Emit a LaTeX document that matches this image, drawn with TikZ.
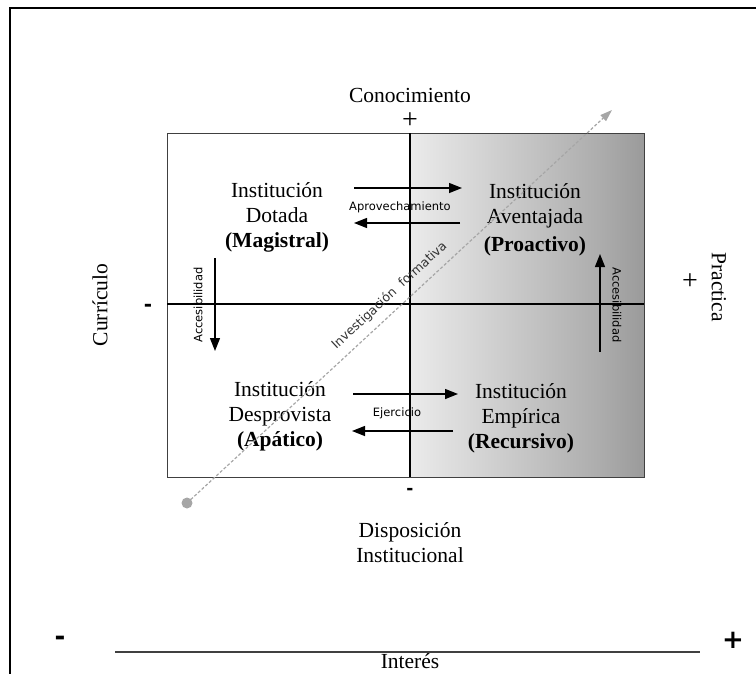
\documentclass[tikz,border=0pt]{standalone}
\usepackage{fontspec}
\setmainfont{Liberation Serif}
\setsansfont{DejaVu Sans}
\usetikzlibrary{arrows.meta}

\pgfdeclarehorizontalshading{gainshade}{100bp}{color(0bp)=(white); color(12bp)=(white); color(65bp)=(black!32); color(100bp)=(black!58)}

\tikzset{
  quadlbl/.style={align=center, font=\fontsize{21.5}{25}\selectfont},
  axislbl/.style={font=\fontsize{21.5}{24}\selectfont},
  smalllbl/.style={font=\sffamily\fontsize{11.5}{13}\selectfont, inner sep=1pt},
  flowarrow/.style={line width=1.4pt, -{Triangle[length=13pt,width=10pt]}},
  signmark/.style={font=\sffamily\bfseries\fontsize{26}{26}\selectfont},
  plusmark/.style={font=\fontsize{28}{28}\selectfont},
}

\begin{document}
\begin{tikzpicture}[x=1pt,y=-1pt]
	\useasboundingbox (0,0) rectangle (756,673);
	% outer frame
	\draw[line width=2pt] (10,690) -- (10,8) -- (770,8);
	% quadrant box
	\shade[shading=gainshade] (410,133) rectangle (644,477);
	\draw[line width=0.9pt, black!75] (167,133) rectangle (644,477);
	\draw[line width=1.1pt] (410,133) -- (410,477);
	\draw[line width=1.1pt] (167,304) -- (644,304);

	% axis labels
	\node[axislbl] (conoc) at (410,95) {Conocimiento};
	\node[plusmark] (conocplus) at (410,121) {+};
	\node[axislbl, rotate=90] (curric) at (100,305) {Currículo};
	\node[signmark, font=\sffamily\bfseries\fontsize{20}{20}\selectfont] (curricminus) at (148,308) {-};
	\node[axislbl, rotate=-90] (pract) at (719,287) {Practica};
	\node[plusmark] (practplus) at (690,282) {+};
	\node[signmark, font=\sffamily\bfseries\fontsize{17}{17}\selectfont] (dispminus) at (410,491) {-};
	\node[quadlbl] (disp) at (410,543) {Disposición\\Institucional};

	% quadrants
	\node[quadlbl] (dotada) at (277,217) {Institución\\Dotada\\\textbf{(Magistral)}};
	\node[quadlbl] (aventajada) at (535,220) {Institución\\Aventajada\\[3pt]\textbf{(Proactivo)}};
	\node[quadlbl] (desprovista) at (280,416) {Institución\\Desprovista\\\textbf{(Apático)}};
	\node[quadlbl] (empirica) at (521,418) {Institución\\Empírica\\\textbf{(Recursivo)}};

	% horizontal transitions
	\coordinate (aprovA) at (354,188);
	\coordinate (aprovB) at (462,188);
	\coordinate (aprovC) at (460,223);
	\coordinate (aprovD) at (354,223);
	\draw[flowarrow] (aprovA) -- (aprovB);
	\draw[flowarrow] (aprovC) -- (aprovD);
	\node[smalllbl] (aprov) at (400,207) {Aprovechamiento};

	\coordinate (ejerA) at (353,394);
	\coordinate (ejerB) at (458,394);
	\coordinate (ejerC) at (453,431);
	\coordinate (ejerD) at (352,431);
	\draw[flowarrow] (ejerA) -- (ejerB);
	\draw[flowarrow] (ejerC) -- (ejerD);
	\node[smalllbl] (ejer) at (397,413) {Ejercicio};

	% vertical transitions
	\coordinate (accL1) at (215,258);
	\coordinate (accL2) at (215,351);
	\draw[flowarrow] (accL1) -- (accL2);
	\node[smalllbl, rotate=90] (accL) at (198,305) {Accesibilidad};
	\coordinate (accR1) at (600,352);
	\coordinate (accR2) at (600,254);
	\draw[flowarrow] (accR1) -- (accR2);
	\node[smalllbl, rotate=-90] (accR) at (617,305) {Accesibilidad};

	% diagonal
	\coordinate (invtip) at (612,110);
	\fill[black!35] (187,503) circle (5.5) coordinate (invdot);
	\draw[black!35, line width=1.2pt, dash pattern=on 3pt off 2pt, -{Triangle[length=12pt,width=8pt]}] (invdot) -- (invtip)
		node[pos=0.5, sloped, above=7pt, black!80, smalllbl, font=\sffamily\fontsize{12.5}{14}\selectfont] (invlbl) {Investigación\ \ formativa};

	% interest axis
	\node[signmark] (intminus) at (60,641) {-};
	\node[signmark] (intplus) at (733,640) {+};
	\coordinate (intA) at (115,652);
	\coordinate (intB) at (700,652);
	\draw[line width=2.2pt, black!75] (intA) -- (intB);
	\node[axislbl] (interes) at (410,661) {Interés};
\end{tikzpicture}
\end{document}
